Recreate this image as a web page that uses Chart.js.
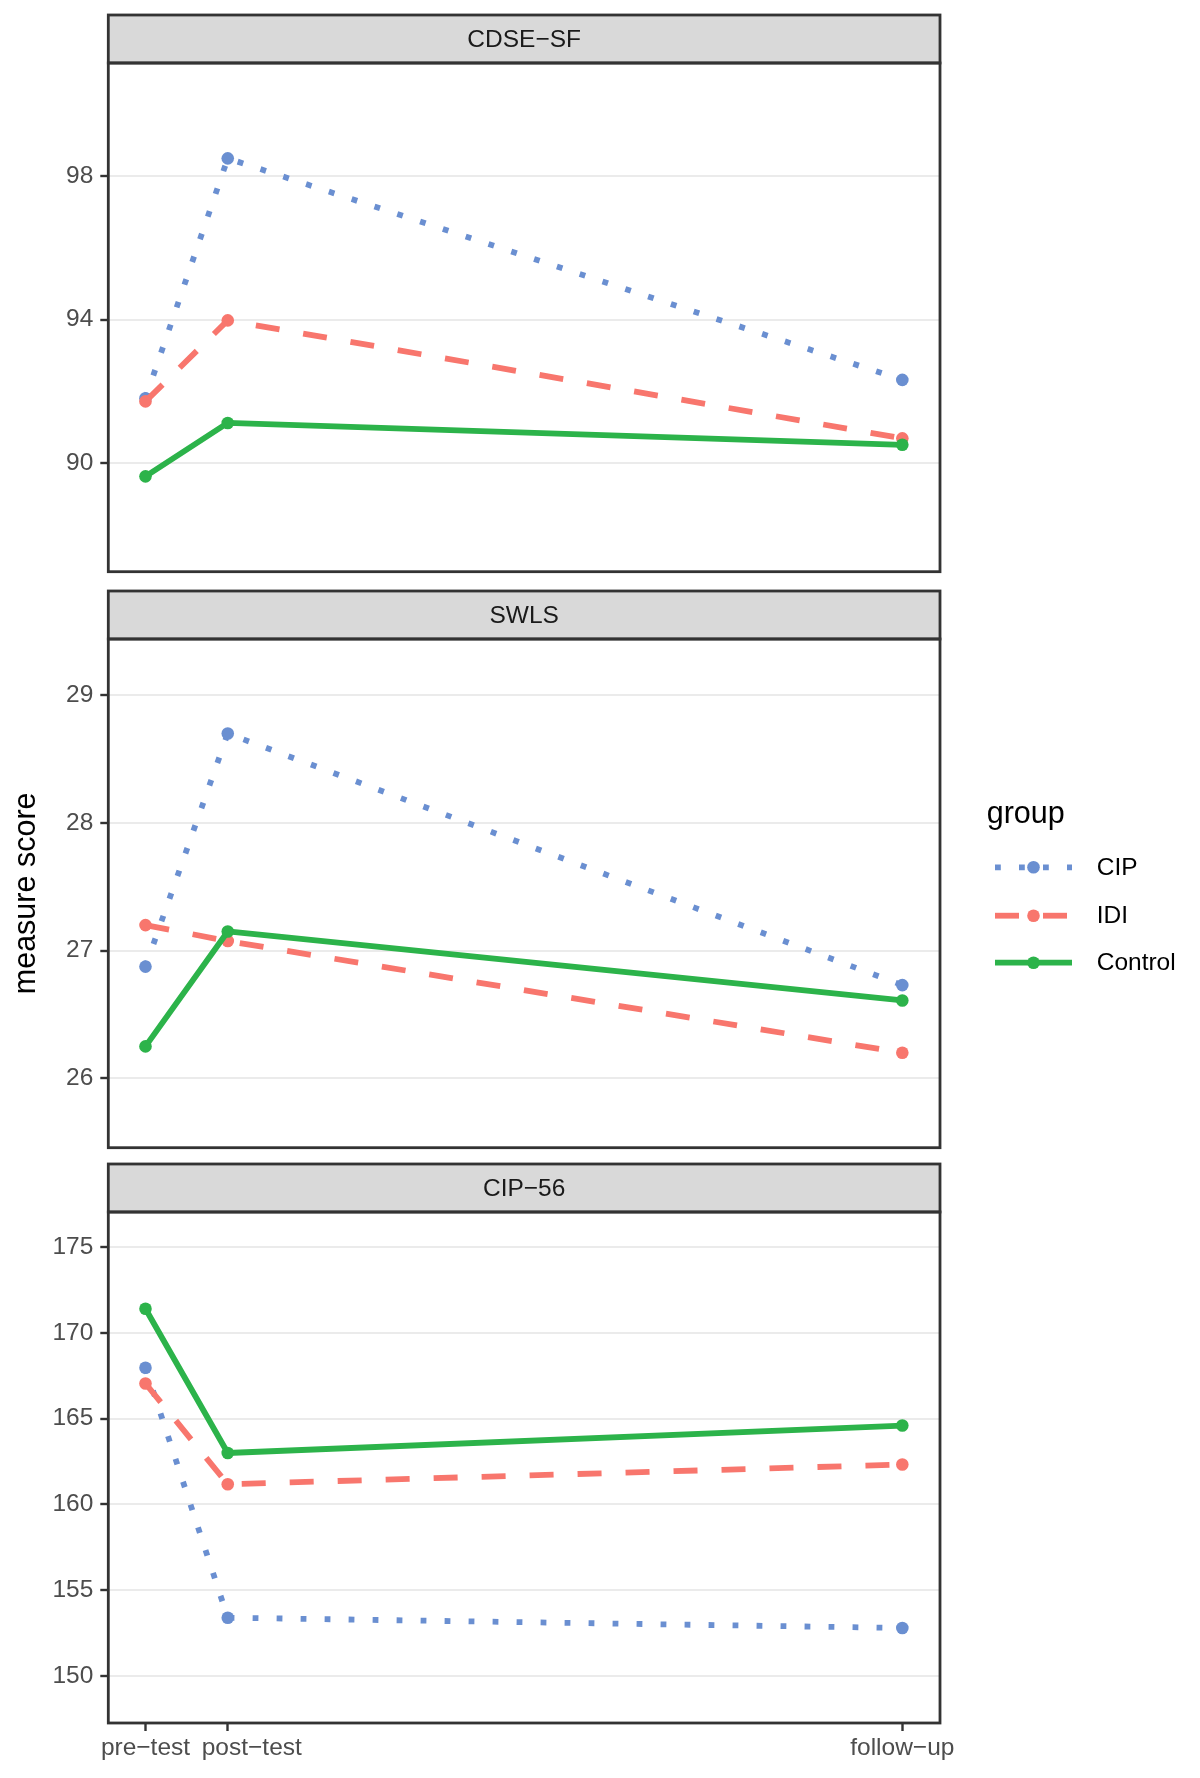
<!DOCTYPE html>
<html><head><meta charset="utf-8">
<script src="https://cdn.jsdelivr.net/npm/chart.js@4.4.1/dist/chart.umd.min.js"></script>
<style>
html,body{margin:0;padding:0;background:#fff;}
#wrap{position:relative;width:1200px;height:1778px;overflow:hidden;background:#fff;}
canvas{position:absolute;left:0;}
</style></head><body>
<div id="wrap">
<canvas id="c1" width="1200" height="567" style="top:11px;width:1200px;height:567px"></canvas>
<canvas id="c2" width="1200" height="567" style="top:587px;width:1200px;height:567px"></canvas>
<canvas id="c3" width="1200" height="613" style="top:1160px;width:1200px;height:613px"></canvas>
</div>
<script>
// ---- data ----
const timePoints = [0, 1, 9.2];
const timeLabels = ['pre\u2212test', 'post\u2212test', 'follow\u2212up'];
const groups = ['CIP', 'IDI', 'Control'];
const panelTitles = ['CDSE\u2212SF', 'SWLS', 'CIP\u221256'];

const cdseCIP = [91.81, 98.50, 92.32];
const cdseIDI = [91.72, 93.98, 90.69];
const cdseControl = [89.63, 91.12, 90.51];

const swlsCIP = [26.875, 28.70, 26.73];
const swlsIDI = [27.20, 27.075, 26.20];
const swlsControl = [26.25, 27.15, 26.61];

const cip56CIP = [167.97, 153.40, 152.80];
const cip56IDI = [167.05, 161.18, 162.33];
const cip56Control = [171.41, 163.00, 164.60];

const cdseTicks = [90, 94, 98];
const swlsTicks = [26, 27, 28, 29];
const cip56Ticks = [150, 155, 160, 165, 170, 175];

const cdseRange = [86.97, 101.16];
const swlsRange = [25.457, 29.44];
const cip56Range = [147.26, 177.05];
const xRange = [-0.452, 9.658];

// ---- styles ----
const FONT = '"Liberation Sans", Arial, Helvetica, sans-serif';
Chart.defaults.font.family = FONT;
const LW = 5.8;
const groupStyle = {
  CIP: {color: '#6A8FD1', dash: [LW, 18.2], order: 3},
  IDI: {color: '#F8766D', dash: [24, 24], order: 2},
  Control: {color: '#2CB34A', dash: [], order: 1}
};
const STRIP_H = 48;

const facetPlugin = {
  id: 'facet',
  afterDatasetsDraw(chart, args, opts) {
    const {ctx, chartArea: a} = chart;
    ctx.save();
    ctx.fillStyle = '#d9d9d9';
    ctx.fillRect(a.left, a.top - STRIP_H, a.right - a.left, STRIP_H);
    ctx.strokeStyle = '#333333';
    ctx.lineWidth = 2.8;
    ctx.setLineDash([]);
    ctx.strokeRect(a.left, a.top - STRIP_H, a.right - a.left, STRIP_H);
    ctx.strokeRect(a.left, a.top, a.right - a.left, a.bottom - a.top);
    ctx.fillStyle = '#1a1a1a';
    ctx.font = '24.5px ' + FONT;
    ctx.textAlign = 'center';
    ctx.textBaseline = 'middle';
    ctx.fillText(opts.title, (a.left + a.right) / 2, a.top - STRIP_H / 2 + 1);
    ctx.restore();
  }
};

// the second x label sits just right of its tick in the reference (avoids overlap)
const labelNudgePlugin = {
  id: 'labelNudge',
  beforeDraw(chart) {
    const s = chart.scales.x;
    if (!s || !s.options.display) return;
    const items = s.getLabelItems(chart.chartArea);
    items.forEach(it => {
      if (it.label === timeLabels[1]) {
        const px = s.getPixelForValue(timePoints[1]);
        it.options.textAlign = 'left';
        it.options.translation = [px - 26, it.options.translation[1]];
      }
    });
  }
};

const legendPlugin = {
  id: 'groupLegend',
  afterDraw(chart, args, opts) {
    if (!opts.show) return;
    const {ctx} = chart;
    const off = opts.canvasTop;
    ctx.save();
    ctx.fillStyle = '#000';
    ctx.font = '30.5px ' + FONT;
    ctx.textAlign = 'left';
    ctx.textBaseline = 'alphabetic';
    ctx.fillText('group', 986.7, 823.3 - off);
    const rows = [867.3, 915.7, 962.7];
    groups.forEach((g, i) => {
      const ds = chart.data.datasets.find(d => d.label === g);
      const y = rows[i] - off;
      ctx.strokeStyle = ds.borderColor;
      ctx.lineWidth = ds.borderWidth;
      ctx.lineCap = 'butt';
      ctx.setLineDash(ds.borderDash);
      ctx.beginPath();
      ctx.moveTo(995, y);
      ctx.lineTo(1072, y);
      ctx.stroke();
      ctx.setLineDash([]);
      ctx.fillStyle = ds.pointBackgroundColor;
      ctx.beginPath();
      ctx.arc(1033.5, y, ds.pointRadius, 0, Math.PI * 2);
      ctx.fill();
      ctx.fillStyle = '#000';
      ctx.font = '24.5px ' + FONT;
      ctx.textBaseline = 'middle';
      ctx.fillText(g, 1096.7, y + 1);
    });
    ctx.restore();
  }
};

function makeDatasets(seriesByGroup) {
  return groups.map(g => ({
    label: g,
    data: timePoints.map((t, i) => ({x: t, y: seriesByGroup[g][i]})),
    borderColor: groupStyle[g].color,
    backgroundColor: groupStyle[g].color,
    pointBackgroundColor: groupStyle[g].color,
    pointBorderWidth: 0,
    pointRadius: 6.3,
    pointHoverRadius: 6.3,
    borderWidth: LW,
    borderDash: groupStyle[g].dash,
    borderCapStyle: 'butt',
    borderJoinStyle: 'round',
    tension: 0,
    fill: false,
    order: groupStyle[g].order,
    clip: false
  }));
}

function makeChart(id, series, range, ticks, title, opt) {
  const showX = !!opt.showX;
  return new Chart(document.getElementById(id), {
    type: 'line',
    data: {datasets: makeDatasets(series)},
    plugins: [facetPlugin, legendPlugin, labelNudgePlugin],
    options: {
      responsive: false,
      animation: false,
      devicePixelRatio: 1,
      layout: {padding: {top: 4 + STRIP_H, bottom: showX ? 0 : 4, left: 0, right: 260}},
      plugins: {
        legend: {display: false},
        tooltip: {enabled: false},
        facet: {title: title},
        groupLegend: {show: !!opt.legend, canvasTop: opt.canvasTop}
      },
      scales: {
        x: {
          type: 'linear',
          min: xRange[0], max: xRange[1],
          display: showX,
          border: {display: false},
          grid: {display: true, drawOnChartArea: false, drawTicks: true, tickLength: 8,
                 tickColor: '#333333', tickWidth: 2.4},
          ticks: {
            display: showX, autoSkip: false, maxRotation: 0, minRotation: 0,
            color: '#4d4d4d', font: {size: 24.5}, padding: 3,
            callback: (v) => { const i = timePoints.indexOf(v); return i >= 0 ? timeLabels[i] : ''; }
          },
          afterBuildTicks: (s) => { s.ticks = timePoints.map(v => ({value: v})); },
          afterFit: (s) => { s.height = showX ? 50 : 0; s.paddingLeft = 0; s.paddingRight = 0; }
        },
        y: {
          type: 'linear',
          min: range[0], max: range[1],
          border: {display: false},
          grid: {display: true, drawOnChartArea: true, color: '#ebebeb', lineWidth: 2,
                 drawTicks: true, tickLength: 8, tickColor: '#333333', tickWidth: 2.4},
          ticks: {color: '#4d4d4d', font: {size: 24.5}, padding: 7},
          title: {
            display: !!opt.yTitle, text: 'measure score', color: '#000',
            font: {size: 30.5}, padding: {top: 8, bottom: 0}
          },
          afterBuildTicks: (s) => { s.ticks = ticks.map(v => ({value: v})); },
          afterFit: (s) => { s.width = 108.3; s.paddingTop = 0; s.paddingBottom = 0; }
        }
      }
    }
  });
}

makeChart('c1', {CIP: cdseCIP, IDI: cdseIDI, Control: cdseControl}, cdseRange, cdseTicks, panelTitles[0],
  {showX: false, canvasTop: 11});
makeChart('c2', {CIP: swlsCIP, IDI: swlsIDI, Control: swlsControl}, swlsRange, swlsTicks, panelTitles[1],
  {showX: false, legend: true, yTitle: true, canvasTop: 587});
makeChart('c3', {CIP: cip56CIP, IDI: cip56IDI, Control: cip56Control}, cip56Range, cip56Ticks, panelTitles[2],
  {showX: true, canvasTop: 1160});
</script>
</body></html>
